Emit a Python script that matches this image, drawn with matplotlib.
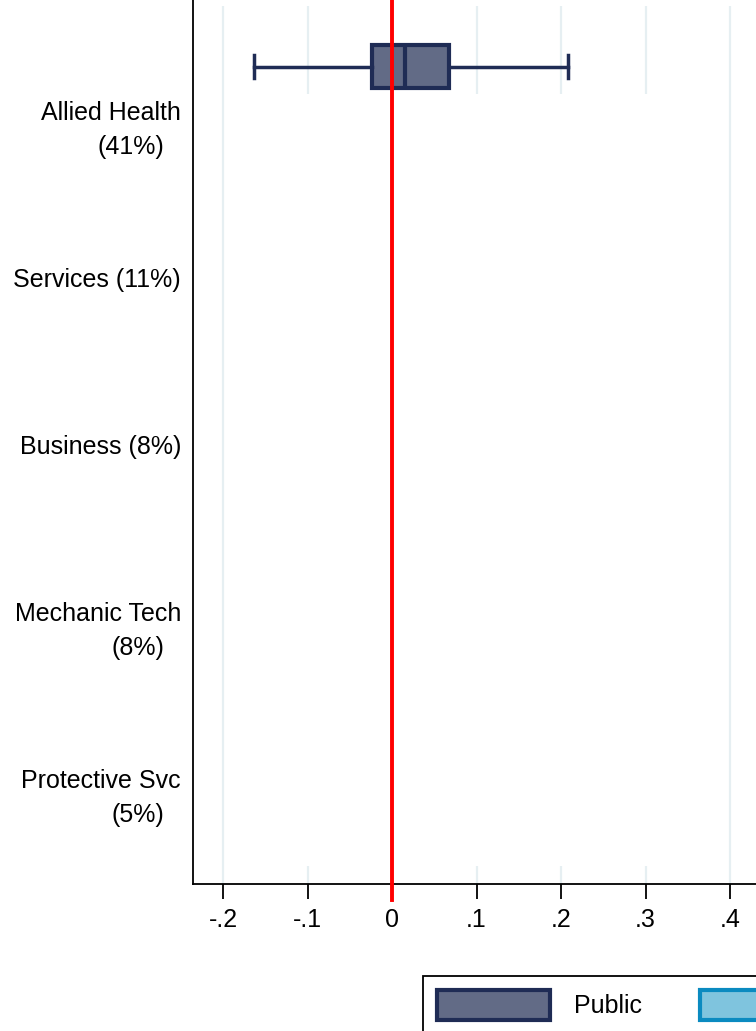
import matplotlib
matplotlib.use('Agg')
import matplotlib.pyplot as plt
from matplotlib.patches import Patch

plt.rcParams['font.family'] = ['Liberation Sans', 'DejaVu Sans']

categories = ['Allied Health', 'Services', 'Business', 'Mechanic Tech', 'Protective Svc']
shares = ['41%', '11%', '8%', '8%', '5%']
two_line = [True, False, False, True, True]

# public box for Allied Health (only one visible)
public_stats = {'whislo': -0.163, 'q1': -0.024, 'med': 0.015, 'q3': 0.068, 'whishi': 0.208}

xticks = [-0.2, -0.1, 0, 0.1, 0.2, 0.3, 0.4]
xticklabels = ['-.2', '-.1', '0', '.1', '.2', '.3', '.4']

pub_face = '#626b86'
pub_edge = '#1f2c55'
priv_face = '#7fc4de'
priv_edge = '#0a8ac0'
grid_col = '#e6eff2'

fig = plt.figure(figsize=(7.56, 10.31), dpi=100)
ax = fig.add_axes([193/756, (1031-884)/1031, (800-193)/756, (884+20)/1031])
ax.set_xlim(-0.2355, 0.4828)
ax.set_ylim(4.617, -0.796)

# grid lines (inner ones are broken in the middle)
top = -0.64
for v in xticks:
    if v in (-0.2, 0.4):
        ax.vlines(v, top, 4.617, color=grid_col, lw=1.6, zorder=0)
    else:
        ax.vlines(v, top, -0.114, color=grid_col, lw=1.6, zorder=0)
        ax.vlines(v, 4.509, 4.617, color=grid_col, lw=1.6, zorder=0)

stats = dict(public_stats)
ax.bxp([stats], positions=[-0.278], widths=0.257, vert=False, showfliers=False,
       patch_artist=True, capwidths=0.14,
       boxprops=dict(facecolor=pub_face, edgecolor=pub_edge, linewidth=3),
       medianprops=dict(color=pub_edge, linewidth=3),
       whiskerprops=dict(color=pub_edge, linewidth=2.5),
       capprops=dict(color=pub_edge, linewidth=2.5))

ax.plot([0, 0], [-0.796, 4.713], color='#ff0000', lw=2.8, clip_on=False, zorder=5)

# category labels
for i, (cat, sh, two) in enumerate(zip(categories, shares, two_line)):
    if two:
        ax.annotate(cat, xy=(0, i), xycoords=('axes fraction', 'data'),
                    xytext=(-8.6, 0), textcoords='offset points',
                    ha='right', va='center', fontsize=18, annotation_clip=False)
        ax.annotate('(' + sh + ')', xy=(0, i + 0.205), xycoords=('axes fraction', 'data'),
                    xytext=(-20.9, 0), textcoords='offset points',
                    ha='right', va='center', fontsize=18, annotation_clip=False)
    else:
        ax.annotate(cat + ' (' + sh + ')', xy=(0, i), xycoords=('axes fraction', 'data'),
                    xytext=(-8.6, 0), textcoords='offset points',
                    ha='right', va='center', fontsize=18, annotation_clip=False)

ax.set_yticks([])
ax.set_xticks(xticks)
ax.set_xticklabels(xticklabels, fontsize=18)
ax.tick_params(axis='x', length=11, width=1.3, pad=6)
for s in ['top', 'right']:
    ax.spines[s].set_visible(False)
for s in ['left', 'bottom']:
    ax.spines[s].set_linewidth(1.3)

handles = [Patch(facecolor=pub_face, edgecolor=pub_edge, linewidth=3, label='Public'),
           Patch(facecolor=priv_face, edgecolor=priv_edge, linewidth=3, label='Private')]
leg = fig.legend(handles=handles, loc='upper left', bbox_to_anchor=(423/756, 1 - 976/1031),
                 ncol=2, fontsize=18, handlelength=4.5, handleheight=1.45,
                 handletextpad=1.0, columnspacing=2.3, borderpad=0.56, borderaxespad=0,
                 fancybox=False, framealpha=1, edgecolor='black')
leg.get_frame().set_linewidth(1.3)

fig.savefig('out.png', dpi=100)
